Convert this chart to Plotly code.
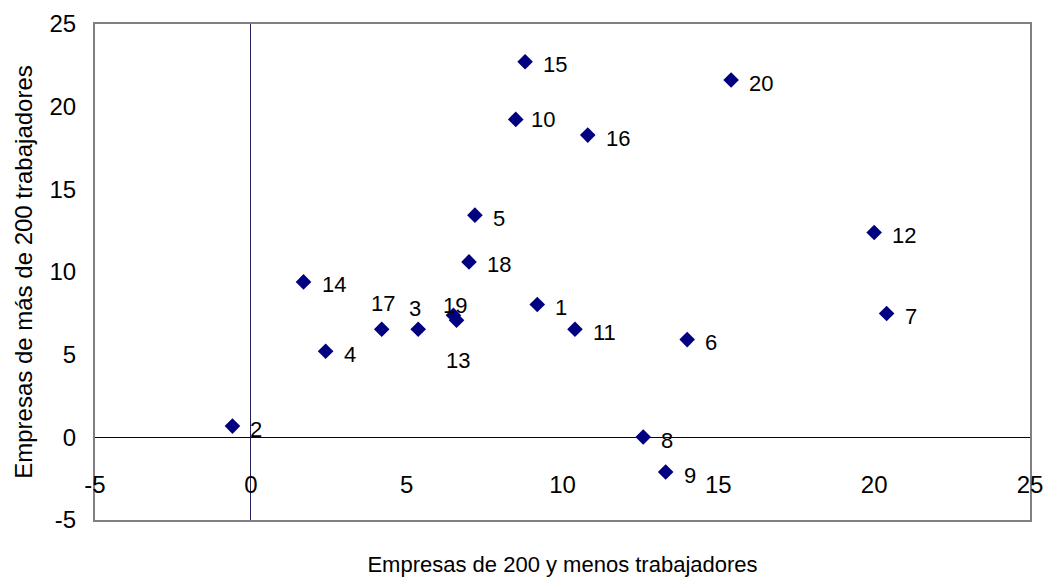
import plotly.graph_objects as go

# Data
point_labels = ["1", "2", "3", "4", "5", "6", "7", "8", "9", "10",
                "11", "12", "13", "14", "15", "16", "17", "18", "19", "20"]
x_small = [9.19, -0.59, 5.37, 2.40, 7.19, 14.00, 20.40, 12.59, 13.31, 8.50,
           10.40, 20.00, 6.60, 1.69, 8.80, 10.81, 4.20, 7.00, 6.50, 15.41]
y_large = [8.03, 0.68, 6.54, 5.21, 13.44, 5.91, 7.49, 0.02, -2.10, 19.23,
           6.54, 12.39, 7.08, 9.40, 22.72, 18.28, 6.54, 10.61, 7.38, 21.61]
tick_vals = [-5, 0, 5, 10, 15, 20, 25]
x_title = "Empresas de 200 y menos trabajadores"
y_title = "Empresas de más de 200 trabajadores"

FONT = "Liberation Sans, Arial, sans-serif"

# label placement styles (pixel offsets), default: right of marker
default_off = dict(xanchor="left", xshift=16, yshift=-3)
special_off = {
    "17": dict(xanchor="center", xshift=1, yshift=26),
    "3": dict(xanchor="center", xshift=-3, yshift=21),
    "19": dict(xanchor="center", xshift=2, yshift=10),
    "13": dict(xanchor="center", xshift=1, yshift=-40),
    "10": dict(xanchor="left", xshift=13, yshift=0),
}

fig = go.Figure()
fig.add_trace(go.Scatter(
    x=x_small, y=y_large, mode="markers",
    marker=dict(symbol="diamond", size=12, color="#000080",
                line=dict(width=0)),
    hoverinfo="text", text=point_labels, showlegend=False,
))

annotations = []
for lab, xv, yv in zip(point_labels, x_small, y_large):
    off = special_off.get(lab, default_off)
    annotations.append(dict(
        x=xv, y=yv, xref="x", yref="y", text=lab, showarrow=False,
        xanchor=off["xanchor"], yanchor="middle",
        xshift=off["xshift"], yshift=off["yshift"],
        font=dict(family=FONT, size=22, color="black"),
    ))

fig.update_layout(
    width=1047, height=582,
    margin=dict(l=95, r=17, t=24, b=62),
    paper_bgcolor="white", plot_bgcolor="white",
    font=dict(family=FONT, color="black"),
    annotations=annotations,
    xaxis=dict(
        range=[-5, 25], tickvals=tick_vals, ticktext=[str(v) for v in tick_vals],
        showgrid=False, zeroline=True, zerolinecolor="#20205a", zerolinewidth=1,
        showline=True, linecolor="#808080", linewidth=2, mirror=True,
        ticks="", ticklabelposition="inside", ticklabeloverflow="allow",
        ticklabelstandoff=24,
        tickfont=dict(family=FONT, size=24, color="black"),
        title=dict(text=x_title, font=dict(family=FONT, size=22, color="black"),
                   standoff=60),
        automargin=False,
    ),
    yaxis=dict(
        range=[-5, 25], tickvals=tick_vals, ticktext=[str(v) for v in tick_vals],
        showgrid=False, zeroline=True, zerolinecolor="#000040", zerolinewidth=1,
        showline=True, linecolor="#808080", linewidth=2, mirror=True,
        ticks="", ticklabelstandoff=12,
        tickfont=dict(family=FONT, size=24, color="black"),
        title=dict(text=y_title, font=dict(family=FONT, size=24, color="black"),
                   standoff=10),
        automargin=False,
    ),
)

fig.write_html("out.html",
               config={"displayModeBar": False},
               post_script="document.body.style.margin='0';"
                           "document.body.style.overflow='hidden';")
